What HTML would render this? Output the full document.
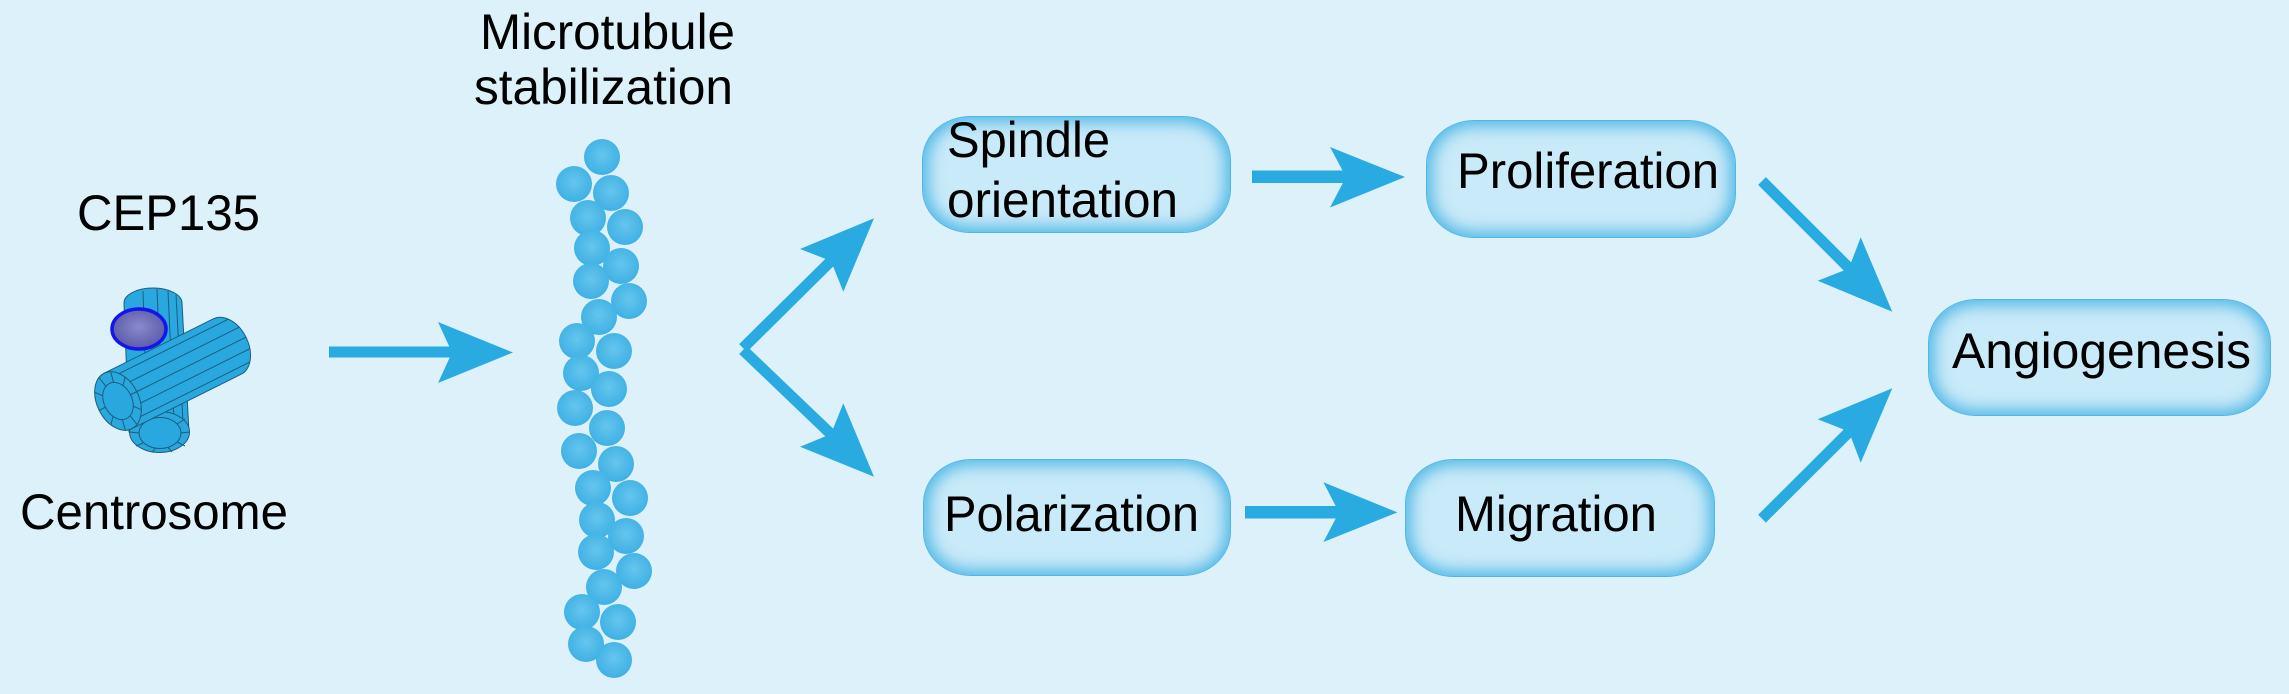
<!DOCTYPE html>
<html>
<head>
<meta charset="utf-8">
<style>
  html,body{margin:0;padding:0;}
  body{width:2289px;height:694px;overflow:hidden;background:#ddf1fa;position:relative;font-family:"Liberation Sans",Arial,sans-serif;}
  .box{position:absolute;box-sizing:border-box;background:#c9eaf8;border-radius:48px / 44px;border:1px solid #4fb7e7;box-shadow:inset 0 0 16px 5px #4db6e6;}
  svg{position:absolute;left:0;top:0;}
</style>
</head>
<body>
<div class="box" style="left:922px;top:116px;width:309px;height:117px;"></div>
<div class="box" style="left:1426px;top:120px;width:310px;height:118px;"></div>
<div class="box" style="left:923px;top:459px;width:308px;height:117px;"></div>
<div class="box" style="left:1405px;top:459px;width:310px;height:118px;"></div>
<div class="box" style="left:1928px;top:299px;width:343px;height:117px;"></div>

<svg width="2289" height="694" viewBox="0 0 2289 694" xmlns="http://www.w3.org/2000/svg">
  <defs>
    <radialGradient id="bead" cx="50%" cy="45%" r="55%">
      <stop offset="0" stop-color="#60c4ed"/>
      <stop offset="1" stop-color="#36ade4"/>
    </radialGradient>
    <radialGradient id="prot" cx="50%" cy="45%" r="55%">
      <stop offset="0" stop-color="#8a8acd"/>
      <stop offset="1" stop-color="#5a5aa8"/>
    </radialGradient>
  </defs>

  <!-- Text labels -->
  <g font-family="Liberation Sans, Arial, sans-serif" font-size="50" fill="#000">
    <text x="77" y="230" textLength="183" lengthAdjust="spacingAndGlyphs">CEP135</text>
    <text x="20" y="529" textLength="268" lengthAdjust="spacingAndGlyphs">Centrosome</text>
    <text x="480" y="49" textLength="255" lengthAdjust="spacingAndGlyphs">Microtubule</text>
    <text x="474" y="104" textLength="259" lengthAdjust="spacingAndGlyphs">stabilization</text>
    <text x="947" y="157" textLength="163" lengthAdjust="spacingAndGlyphs">Spindle</text>
    <text x="947" y="217" textLength="231" lengthAdjust="spacingAndGlyphs">orientation</text>
    <text x="1457" y="188" textLength="262" lengthAdjust="spacingAndGlyphs">Proliferation</text>
    <text x="944" y="531" textLength="255" lengthAdjust="spacingAndGlyphs">Polarization</text>
    <text x="1455" y="531" textLength="202" lengthAdjust="spacingAndGlyphs">Migration</text>
    <text x="1952" y="368" textLength="299" lengthAdjust="spacingAndGlyphs">Angiogenesis</text>
  </g>

  <!-- Centrosome -->
  <g stroke="#1d5c7c" stroke-width="1" fill="#29a8df">
    <path d="M124,303 A29,15 0 0 1 182,303 L189,432 L129,432 Z"/>
    <g fill="none">
      <path d="M143,291 L147,420"/>
      <path d="M157,289 L162,418"/>
      <path d="M168,291 L174,420"/>
      <path d="M176,295 L183,422"/>
    </g>
    <ellipse cx="159.5" cy="432" rx="30" ry="20.5"/>
    <ellipse cx="160" cy="433" rx="21" ry="15.5"/>
    <g fill="none">
      <path d="M181,433 L189.5,432"/>
      <path d="M177,442 L185,446"/>
      <path d="M168,447.5 L172,452"/>
      <path d="M155,448.5 L152,452.5"/>
      <path d="M143,443 L136,446"/>
      <path d="M139,433 L129.5,432"/>
      <path d="M177,424 L185,419"/>
    </g>
  </g>
  <ellipse cx="139" cy="329" rx="27" ry="20" fill="url(#prot)" stroke="#1414ee" stroke-width="3.5"/>
  <g transform="translate(118,401) rotate(-26.5)" stroke="#1d5c7c" stroke-width="1" fill="#29a8df">
    <path d="M0,-31 L122,-31 A21,31 0 0 1 122,31 L0,31 Z"/>
    <g fill="none">
      <path d="M13.3,-24 L135.3,-24"/>
      <path d="M19.4,-12 L141.4,-12"/>
      <path d="M21,0 L143,0"/>
      <path d="M19.4,12 L141.4,12"/>
      <path d="M13.3,24 L135.3,24"/>
    </g>
    <ellipse cx="0" cy="0" rx="21" ry="31"/>
    <ellipse cx="0" cy="0" rx="14" ry="19.5"/>
    <g fill="none">
      <path d="M14,0 L21,0"/>
      <path d="M11.3,11.5 L17,18.2"/>
      <path d="M4.3,18.5 L6.5,29.5"/>
      <path d="M-4.3,18.5 L-6.5,29.5"/>
      <path d="M-11.3,11.5 L-17,18.2"/>
      <path d="M-14,0 L-21,0"/>
      <path d="M-11.3,-11.5 L-17,-18.2"/>
      <path d="M-4.3,-18.5 L-6.5,-29.5"/>
      <path d="M4.3,-18.5 L6.5,-29.5"/>
      <path d="M11.3,-11.5 L17,-18.2"/>
    </g>
  </g>

  <!-- Microtubule beads -->
  <g fill="url(#bead)" opacity="0.95">
    <circle cx="602" cy="157" r="18"/>
    <circle cx="574" cy="184" r="18"/>
    <circle cx="611" cy="193" r="18"/>
    <circle cx="588" cy="218" r="18"/>
    <circle cx="625" cy="227" r="18"/>
    <circle cx="592" cy="248" r="18"/>
    <circle cx="621" cy="266" r="18"/>
    <circle cx="591" cy="281" r="18"/>
    <circle cx="629" cy="301" r="18"/>
    <circle cx="599" cy="317" r="18"/>
    <circle cx="577" cy="341" r="18"/>
    <circle cx="614" cy="351" r="18"/>
    <circle cx="581" cy="373" r="18"/>
    <circle cx="609" cy="389" r="18"/>
    <circle cx="575" cy="408" r="18"/>
    <circle cx="607" cy="428" r="18"/>
    <circle cx="579" cy="451" r="18"/>
    <circle cx="616" cy="464" r="18"/>
    <circle cx="593" cy="488" r="18"/>
    <circle cx="630" cy="498" r="18"/>
    <circle cx="597" cy="520" r="18"/>
    <circle cx="626" cy="536" r="18"/>
    <circle cx="596" cy="552" r="18"/>
    <circle cx="634" cy="571" r="18"/>
    <circle cx="604" cy="587" r="18"/>
    <circle cx="582" cy="612" r="18"/>
    <circle cx="618" cy="622" r="18"/>
    <circle cx="586" cy="644" r="18"/>
    <circle cx="614" cy="660" r="18"/>
  </g>

  <!-- Arrows -->
  <g fill="#29abe2">
    <rect x="329" y="346.5" width="126" height="11"/>
    <polygon points="513,352.5 438,322 452,352.5 438,383"/>
    <rect x="1252" y="170.5" width="96" height="12.5"/>
    <polygon points="1405,177 1330,147 1346,177 1330,207.5"/>
    <rect x="1245" y="506" width="96" height="12.5"/>
    <polygon points="1397.5,512.4 1323.4,482.3 1339,512.4 1323.4,542"/>
    <polygon points="874,218.3 800,249 831,261 843.3,291.7"/>
    <polygon points="874,476.7 800,446.7 831,434 843.3,403.3"/>
    <polygon points="1892.3,311.7 1817.7,280.7 1848.8,268.5 1860.7,237.3"/>
    <polygon points="1892.3,388.3 1817.7,419.3 1848.8,431.5 1860.7,462.7"/>
  </g>
  <g stroke="#29abe2" stroke-width="11" stroke-linecap="butt" fill="none">
    <line x1="743" y1="348" x2="834" y2="258"/>
    <line x1="743" y1="350" x2="834" y2="437"/>
    <line x1="1762" y1="181" x2="1851" y2="270"/>
    <line x1="1762" y1="518.7" x2="1851" y2="430"/>
  </g>
</svg>
</body>
</html>
